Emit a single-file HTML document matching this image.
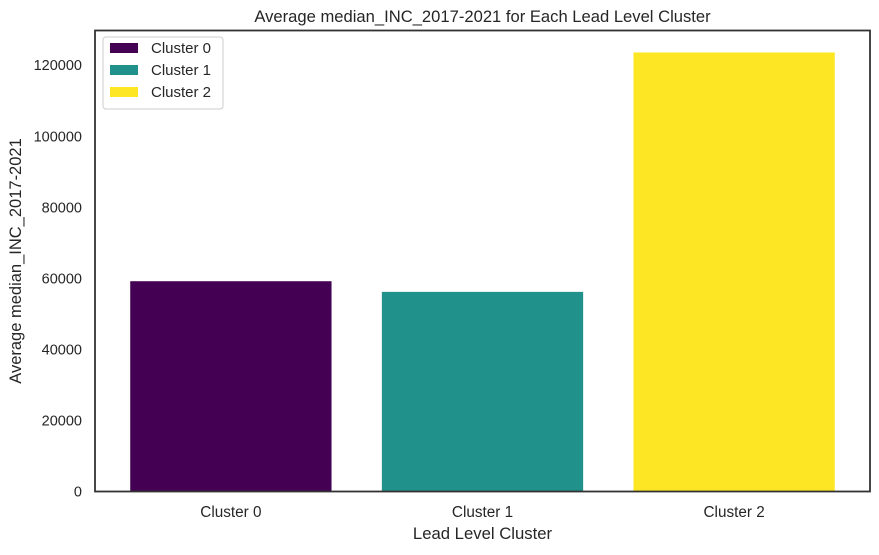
<!DOCTYPE html>
<html><head><meta charset="utf-8"><style>
body{margin:0;background:#fff;font-family:"Liberation Sans","DejaVu Sans",sans-serif;}
svg text{font-family:"Liberation Sans","DejaVu Sans",sans-serif;fill:#262626;}
</style></head><body>
<svg id="chart" width="879" height="550" xmlns="http://www.w3.org/2000/svg"></svg>
<script>
const categories = ["Cluster 0","Cluster 1","Cluster 2"];
const values = [59200, 56200, 123600];
const colors = ["#440154","#21918c","#fde725"];
const yTicks = [0,20000,40000,60000,80000,100000,120000];
const NS="http://www.w3.org/2000/svg";
const svg=document.getElementById('chart');
const L=95,R=870,T=30.5,B=491.5;
const ymax=Math.max(...values)*1.05;
const xmin=-0.54,xmax=categories.length-1+0.54;
const xs=v=>L+(v-xmin)/(xmax-xmin)*(R-L);
const ys=v=>B-v/ymax*(B-T);
function mk(tag,attrs,txt){const e=document.createElementNS(NS,tag);for(const k in attrs)e.setAttribute(k,attrs[k]);if(txt!==undefined)e.textContent=txt;svg.appendChild(e);return e;}
categories.forEach((c,i)=>{
  const x0=xs(i-0.4),x1=xs(i+0.4);
  const r=mk('rect',{x:x0,y:ys(values[i]),width:x1-x0,height:B-ys(values[i]),fill:colors[i]});
  
  
  const t=mk('text',{x:xs(i),y:517,'text-anchor':'middle','font-size':15.3},c);
  
  
});
yTicks.forEach(v=>{
  const t=mk('text',{x:L-13,y:ys(v)+5,'text-anchor':'end','font-size':14.5},String(v));
  
  
});
const f=mk('rect',{x:L,y:T,width:R-L,height:B-T,fill:'none',stroke:'#333','stroke-width':1.8});


const ti=mk('text',{x:(L+R)/2,y:22,'text-anchor':'middle','font-size':16.6},'Average median_INC_2017-2021 for Each Lead Level Cluster');


const xt=mk('text',{x:(L+R)/2,y:539,'text-anchor':'middle','font-size':16.7},'Lead Level Cluster');


const yt=mk('text',{x:0,y:0,'text-anchor':'middle','font-size':16.5,transform:`translate(21,${(T+B)/2}) rotate(-90)`},'Average median_INC_2017-2021');


const lg=mk('rect',{x:103,y:37,width:120,height:72,fill:'#fff',stroke:'#ccc',rx:3});


categories.forEach((c,i)=>{
  const y=42+i*22;
  const s=mk('rect',{x:110,y:y+1,width:28,height:10,fill:colors[i]});
  
  
  const t=mk('text',{x:151,y:y+11,'font-size':15},c);
  
  
});
</script>
</body></html>
